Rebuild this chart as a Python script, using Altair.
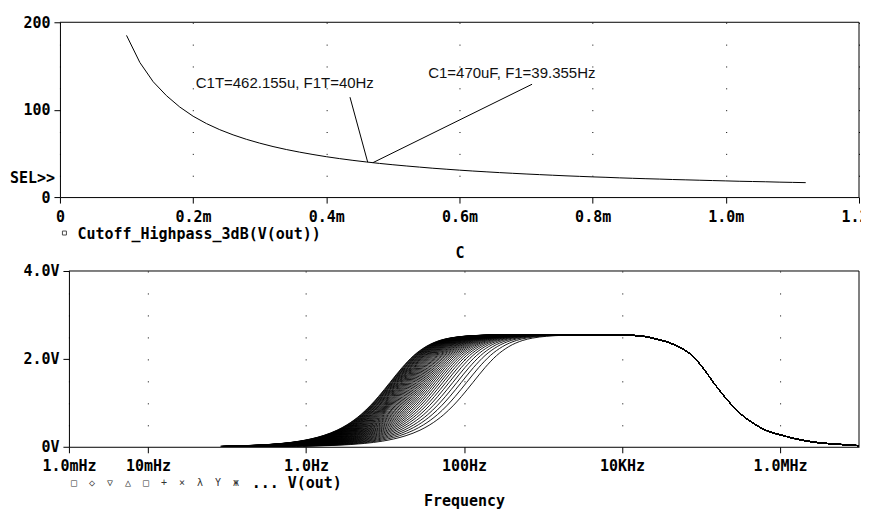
import altair as alt
import pandas as pd

# ---------------- data ----------------
# Top panel: 3 dB high-pass cutoff frequency vs. coupling capacitor C (in mF)
cap_mf = [0.10, 0.12, 0.14, 0.16, 0.18, 0.20, 0.22, 0.24, 0.26, 0.28,
          0.30, 0.32, 0.34, 0.36, 0.38, 0.40, 0.42, 0.44, 0.46, 0.48,
          0.50, 0.52, 0.54, 0.56, 0.58, 0.60, 0.62, 0.64, 0.66, 0.68,
          0.70, 0.72, 0.74, 0.76, 0.78, 0.80, 0.82, 0.84, 0.86, 0.88,
          0.90, 0.92, 0.94, 0.96, 0.98, 1.00, 1.02, 1.04, 1.06, 1.08,
          1.10, 1.12]
cutoff_hz = [185, 154, 132, 116, 103, 92.5, 84.1, 77.1, 71.2, 66.1,
             61.7, 57.8, 54.4, 51.4, 48.7, 46.2, 44.0, 42.0, 40.2, 38.5,
             37.0, 35.6, 34.3, 33.0, 31.9, 30.8, 29.8, 28.9, 28.0, 27.2,
             26.4, 25.7, 25.0, 24.3, 23.7, 23.1, 22.6, 22.0, 21.5, 21.0,
             20.6, 20.1, 19.7, 19.3, 18.9, 18.5, 18.1, 17.8, 17.5, 17.1,
             16.8, 16.5]
c_ticks = [0, 0.2, 0.4, 0.6, 0.8, 1.0, 1.2]
f_ticks = [0, 100, 200]

# annotations: label anchor -> annotated point
ann_texts = ["C1T=462.155u, F1T=40Hz", "C1=470uF, F1=39.355Hz"]
ann_text_c = [0.204, 0.553]
ann_text_f = [130.3, 141.7]
ann_from_c = [0.4356, 0.709]
ann_from_f = [114.3, 129.1]
ann_pt_c = [0.462155, 0.470]
ann_pt_f = [40.0, 39.355]

# Bottom panel: V(out) family, one curve per C value above
v_peak = 2.55
hp_ratio = [0.005, 0.01, 0.02, 0.03, 0.05, 0.07, 0.1, 0.15, 0.2, 0.3, 0.4,
            0.5, 0.7, 1.0, 1.4, 2.0, 3.0, 4.0, 6.0, 10.0, 20.0, 40.0]
hp_gain = [0.005, 0.01, 0.02, 0.03, 0.05, 0.07, 0.0995, 0.148, 0.196, 0.287,
           0.371, 0.447, 0.573, 0.707, 0.814, 0.894, 0.949, 0.970, 0.986,
           0.995, 0.999, 1.0]
lp_freq = [1.0e4, 1.9e4, 2.6e4, 4.6e4, 8.1e4, 1.07e5, 1.45e5, 2.14e5, 3.1e5,
           4.58e5, 6.75e5, 1.0e6, 2.1e6, 6.7e6, 1.0e7]
lp_gain = [0.998, 0.985, 0.965, 0.91, 0.80, 0.70, 0.57, 0.42, 0.30, 0.21,
           0.145, 0.107, 0.053, 0.018, 0.01]
freq_ticks = [1e-3, 1e-2, 1, 1e2, 1e4, 1e6]
freq_tick_labels = ["1.0mHz", "10mHz", "1.0Hz", "100Hz", "10KHz", "1.0MHz"]
freq_tick_exp = [-3, -2, 0, 2, 4, 6]
volt_ticks = [0, 2, 4]

NB = "\u00a0"
legend_symbols = (NB * 2).join(["\u25a1", "\u25c7", "\u25bd", "\u25b3", "\u25a1",
                                "+", "\u00d7", "\u03bb", "Y", "\u0436"])

# ---------------- tables ----------------
top_df = pd.DataFrame({"C": cap_mf, "F": cutoff_hz})
ann_df = pd.DataFrame({"x0": ann_from_c, "y0": ann_from_f, "x1": ann_pt_c,
                       "y1": ann_pt_f, "tx": ann_text_c, "ty": ann_text_f,
                       "label": ann_texts})
rows = []
for i, fc in enumerate(cutoff_hz):
    for r, g in zip(hp_ratio, hp_gain):
        rows.append({"curve": i, "f": fc * r, "v": v_peak * g})
    for f, g in zip(lp_freq, lp_gain):
        rows.append({"curve": i, "f": f, "v": v_peak * g})
bot_df = pd.DataFrame(rows)
one = pd.DataFrame({"k": [0]})

MONO = "DejaVu Sans Mono"
SANS = "Liberation Sans"

# ---------------- top panel ----------------
TW, TH = 800, 175
top_curve = alt.Chart(top_df).mark_line(color="black", strokeWidth=1).encode(
    x=alt.X("C:Q", scale=alt.Scale(domain=[0, 1.2], nice=False, zero=False),
            axis=alt.Axis(values=c_ticks, title="C", titleY=55, titleBaseline="middle",
                          labelExpr="datum.value == 0 ? '0' : format(datum.value, '.1f') + 'm'",
                          grid=True, gridDash=[1, 20.875], gridColor="black", gridWidth=1)),
    y=alt.Y("F:Q", scale=alt.Scale(domain=[0, 200], nice=False),
            axis=alt.Axis(values=f_ticks, title=None)),
)
top_border = alt.Chart(one).mark_rule(color="black").encode(
    x=alt.datum(0), x2=alt.datum(1.2), y=alt.datum(200))
right_border = alt.Chart(one).mark_rule(color="black").encode(
    x=alt.datum(1.2), y=alt.datum(0), y2=alt.datum(200))
ann_lines = alt.Chart(ann_df).mark_rule(color="black", strokeWidth=1).encode(
    x="x0:Q", y="y0:Q", x2="x1:Q", y2="y1:Q")
ann_labels = alt.Chart(ann_df).mark_text(
    align="left", baseline="middle", font=SANS, fontSize=15, color="#111111").encode(
    x="tx:Q", y="ty:Q", text="label:N")
sel = alt.Chart(one).mark_text(
    text="SEL>>", align="left", baseline="middle", font=MONO, fontWeight="bold",
    fontSize=15, color="black").encode(x=alt.value(-50), y=alt.value(156))
top_leg_sq = alt.Chart(one).mark_point(
    shape="square", filled=False, size=16, color="black", strokeWidth=1).encode(
    x=alt.value(4.5), y=alt.value(211))
top_leg_txt = alt.Chart(one).mark_text(
    text="Cutoff_Highpass_3dB(V(out))", align="left", baseline="middle", font=MONO,
    fontWeight="bold", fontSize=15, color="black").encode(
    x=alt.value(17.5), y=alt.value(211.5))

top = alt.layer(top_curve, top_border, right_border, ann_lines, ann_labels,
                sel, top_leg_sq, top_leg_txt).properties(width=TW, height=TH)

# ---------------- bottom panel ----------------
BW, BH = 800, 176
lab_expr = " : ".join(
    f"round(log(datum.value)/LN10) == {e} ? '{lab}'"
    for e, lab in zip(freq_tick_exp, freq_tick_labels)) + " : ''"
bot_lines = alt.Chart(bot_df).mark_line(
    color="black", strokeWidth=0.9, interpolate="monotone").encode(
    x=alt.X("f:Q", scale=alt.Scale(type="log", domain=[1e-3, 1e7], range=[9, 800], nice=False),
            axis=alt.Axis(values=freq_ticks, labelExpr=lab_expr, title="Frequency",
                          titleY=54, titleBaseline="middle",
                          grid=True, gridDash=[1, 21], gridColor="black", gridWidth=1)),
    y=alt.Y("v:Q", scale=alt.Scale(domain=[0, 4], nice=False),
            axis=alt.Axis(values=volt_ticks, offset=-9, title=None,
                          labelExpr="datum.value == 0 ? '0V' : format(datum.value, '.1f') + 'V'")),
    detail="curve:N",
)
bot_top_border = alt.Chart(one).mark_rule(color="black").encode(
    x=alt.datum(1e-3), x2=alt.datum(1e7), y=alt.datum(4))
bot_right_border = alt.Chart(one).mark_rule(color="black").encode(
    x=alt.datum(1e7), y=alt.datum(0), y2=alt.datum(4))
bot_leg_sym = alt.Chart(one).mark_text(
    text=legend_symbols, align="left", baseline="middle", font=MONO, fontSize=10,
    color="#333333").encode(x=alt.value(11), y=alt.value(212.7))
bot_leg_txt = alt.Chart(one).mark_text(
    text="... V(out)", align="left", baseline="middle", font=MONO, fontWeight="bold",
    fontSize=15, color="black").encode(x=alt.value(192), y=alt.value(212))

bottom = alt.layer(bot_lines, bot_top_border, bot_right_border,
                   bot_leg_sym, bot_leg_txt).properties(width=BW, height=BH)

chart = alt.vconcat(top, bottom, spacing=74, bounds="flush").properties(
    padding={"left": 2, "top": 7, "right": -17, "bottom": 0},
    background="white",
).configure_view(stroke=None).configure_axis(
    labelFont=MONO, labelFontWeight="bold", labelFontSize=15, labelColor="black",
    titleFont=MONO, titleFontWeight="bold", titleFontSize=15, titleColor="black",
    domainColor="black", domainWidth=1, tickColor="black", tickSize=6, tickWidth=1,
    labelFlush=False, labelOverlap=False, grid=False,
).configure_axisX(labelPadding=6).configure_axisY(labelPadding=4)

chart.save("out.html", embed_options={"renderer": "svg", "actions": False})
